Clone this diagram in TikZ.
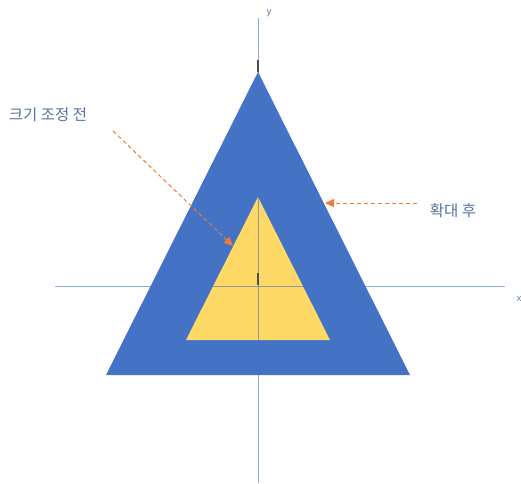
\documentclass[tikz,border=0pt]{standalone}
\usepackage{fontspec}
\newfontfamily\krfont{Noto Sans CJK KR}
\usetikzlibrary{arrows.meta}
\definecolor{bigblue}{HTML}{4472C4}
\definecolor{smallyellow}{HTML}{FFD966}
\definecolor{arroworange}{HTML}{ED7D31}
\definecolor{labeltext}{HTML}{5673A0}
\tikzset{
  axisline/.style={draw=bigblue, opacity=0.6, line width=1pt},
  tickmark/.style={draw=black!70, line width=1.2pt},
  callout/.style={draw=arroworange, line width=1pt, dash pattern=on 4pt off 3pt, -{Triangle[length=9pt,width=8pt]}},
  lbl/.style={text=labeltext, font=\krfont\fontsize{15.5}{18}\selectfont, inner sep=0pt},
  axlbl/.style={text=labeltext, font=\sffamily\fontsize{11}{13}\selectfont, inner sep=0pt}
}
\begin{document}
\begin{tikzpicture}[x=1pt,y=-1pt]
\useasboundingbox (0,0) rectangle (521,483);
% triangles
\fill[bigblue] (258,72) -- (410,375) -- (106,375) -- cycle;
\fill[smallyellow] (258,197) -- (330,340) -- (186,340) -- cycle;
% axes
\coordinate (yt) at (258,18);
\coordinate (yb) at (258,483);
\coordinate (xl) at (55,286);
\coordinate (xr) at (505,286);
\draw[axisline] (yt) -- (yb);
\draw[axisline] (xl) -- (xr);
\draw[tickmark] (258,60) -- (258,72);
\draw[tickmark] (258,273) -- (258,285);
\node[axlbl] (ylab) at (269,13) {y};
\node[axlbl] (xlab) at (519,299) {x};
% labels
\node[lbl] (before) at (48,115) {크기 조정 전};
\node[lbl] (after) at (453,211) {확대 후};
% callouts
\coordinate (a1s) at (113,131);
\coordinate (a1e) at (233,246);
\coordinate (a2s) at (417,203);
\coordinate (a2e) at (325,203);
\draw[callout] (a1s) -- (a1e);
\draw[callout] (a2s) -- (a2e);
\end{tikzpicture}
\end{document}
